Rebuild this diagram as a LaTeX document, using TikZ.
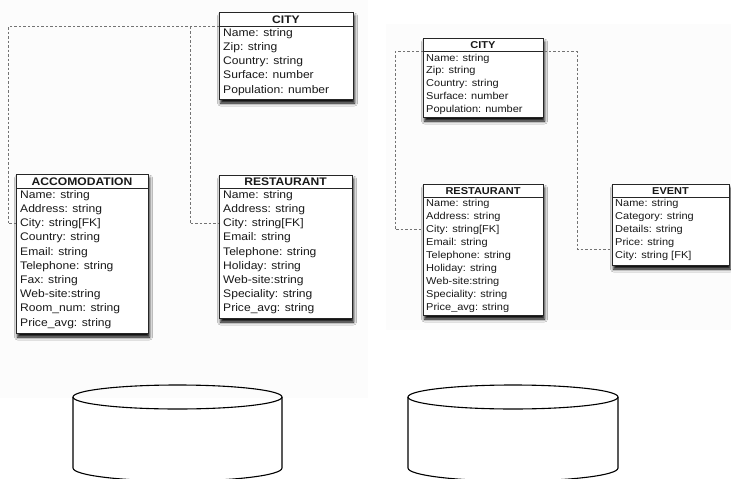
\documentclass[tikz,border=0pt]{standalone}
\usepackage{fontspec}
\usetikzlibrary{shadows.blur}
\newfontfamily\erfont[FakeStretch=1.1]{Liberation Sans}

\tikzset{
  tbl/.style={draw=black!85, line width=1.1pt, fill=white, anchor=north west,
    inner sep=0pt, blur shadow={shadow xshift=1pt, shadow yshift=-3.5pt,
    shadow blur radius=3pt, shadow opacity=100}},
  hdrline/.style={draw=black!85, line width=0.9pt},
  bigtxt/.style={anchor=west, inner sep=0pt, font=\erfont\fontsize{11}{12}\selectfont,
    text=black!90, text height=7.5pt, text depth=2pt},
  smalltxt/.style={anchor=west, inner sep=0pt, font=\erfont\fontsize{10}{11}\selectfont,
    text=black!90, text height=7pt, text depth=2pt},
  bigttl/.style={inner sep=0pt, font=\erfont\bfseries\fontsize{11}{12}\selectfont,
    text=black!90, text height=7.5pt, text depth=0pt},
  smallttl/.style={inner sep=0pt, font=\erfont\bfseries\fontsize{10}{11}\selectfont,
    text=black!90, text height=7pt, text depth=0pt},
  fk/.style={draw=black!55, line width=0.9pt, dash pattern=on 2.5pt off 2pt},
  disk/.style={draw=black, line width=1.1pt},
  shot/.style={fill=black!1, draw=none}
}

% rows of an entity: prefix, style, x, first y, pitch, list
\newcommand\entityrows[6]{%
  \foreach \t [count=\i from 0] in {#6}
    \node[#2] (#1-\i) at (#3, {#4+\i*#5}) {\t};}

\begin{document}
\begin{tikzpicture}[x=1pt, y=-1pt]
\useasboundingbox (0,0) rectangle (731,479);

% faint screenshot backgrounds
\fill[shot] (0,0) rectangle (368,398);
\fill[shot] (386,24) rectangle (731,330);

% ---------- left schema ----------
% CITY
\node[tbl, minimum width=134pt, minimum height=87pt] (cityL) at (219,12) {};
\coordinate (cityLh) at (0,26.5);
\draw[hdrline] (cityL.west |- cityLh) -- (cityL.east |- cityLh);
\node[bigttl] (cityLt) at (286,19.5) {CITY};
\entityrows{cityL}{bigtxt}{223}{33.5}{14.2}{Name: string, Zip: string, Country: string, Surface: number, Population: number}

% ACCOMODATION
\node[tbl, minimum width=132pt, minimum height=159pt] (acc) at (16,174) {};
\coordinate (acch) at (0,188);
\draw[hdrline] (acc.west |- acch) -- (acc.east |- acch);
\node[bigttl] (acct) at (82,181.5) {ACCOMODATION};
\entityrows{acc}{bigtxt}{20}{195.5}{14.2}{Name: string, Address: string, City: string[FK], Country: string, Email: string, Telephone: string, Fax: string, Web-site:string, Room\_num: string, Price\_avg: string}

% RESTAURANT
\node[tbl, minimum width=133pt, minimum height=143pt] (restL) at (219,175) {};
\coordinate (restLh) at (0,188);
\draw[hdrline] (restL.west |- restLh) -- (restL.east |- restLh);
\node[bigttl] (restLt) at (285.5,181.5) {RESTAURANT};
\entityrows{restL}{bigtxt}{223}{195.5}{14.2}{Name: string, Address: string, City: string[FK], Email: string, Telephone: string, Holiday: string, Web-site:string, Speciality: string, Price\_avg: string}

% foreign keys to CITY
\coordinate (jL) at (190,0);
\draw[fk] (cityL.west |- cityLh) -| ([xshift=-8pt]acc.west |- acc-2) -- (acc.west |- acc-2);
\draw[fk] (jL |- cityLh) |- (restL.west |- restL-2);

% ---------- right schema ----------
% CITY
\node[tbl, minimum width=120pt, minimum height=79pt] (cityR) at (423,38) {};
\coordinate (cityRh) at (0,51.5);
\draw[hdrline] (cityR.west |- cityRh) -- (cityR.east |- cityRh);
\node[smallttl] (cityRt) at (483,44.5) {CITY};
\entityrows{cityR}{smalltxt}{426}{58.5}{12.9}{Name: string, Zip: string, Country: string, Surface: number, Population: number}

% RESTAURANT
\node[tbl, minimum width=120pt, minimum height=131pt] (restR) at (423,184) {};
\coordinate (restRh) at (0,197);
\draw[hdrline] (restR.west |- restRh) -- (restR.east |- restRh);
\node[smallttl] (restRt) at (483,190.5) {RESTAURANT};
\entityrows{restR}{smalltxt}{426}{203.5}{13}{Name: string, Address: string, City: string[FK], Email: string, Telephone: string, Holiday: string, Web-site:string, Speciality: string, Price\_avg: string}

% EVENT
\node[tbl, minimum width=117pt, minimum height=81pt] (event) at (612,184) {};
\coordinate (eventh) at (0,197);
\draw[hdrline] (event.west |- eventh) -- (event.east |- eventh);
\node[smallttl] (eventt) at (670.5,190.5) {EVENT};
\entityrows{event}{smalltxt}{615}{203.5}{13}{Name: string, Category: string, Details: string, Price: string, City: string [FK]}

% foreign keys to CITY
\coordinate (jR1) at (395,0);
\coordinate (jR2) at (577,0);
\coordinate (evfk) at ([yshift=6.5pt]event.west |- event-4);
\draw[fk] (cityR.west |- cityRh) -- (jR1 |- cityRh) |- (restR.west |- restR-2);
\draw[fk] (cityR.east |- cityRh) -- (jR2 |- cityRh) |- (evfk);

% ---------- storage cylinders ----------
\draw[disk] (177.5,397) ellipse [x radius=104.5, y radius=12];
\draw[disk] (73,397) -- (73,468) arc[start angle=180, end angle=0, x radius=104.5, y radius=13] -- (282,397);
\draw[disk] (513,397) ellipse [x radius=105, y radius=12];
\draw[disk] (408,397) -- (408,468) arc[start angle=180, end angle=0, x radius=105, y radius=13] -- (618,397);
\end{tikzpicture}
\end{document}
